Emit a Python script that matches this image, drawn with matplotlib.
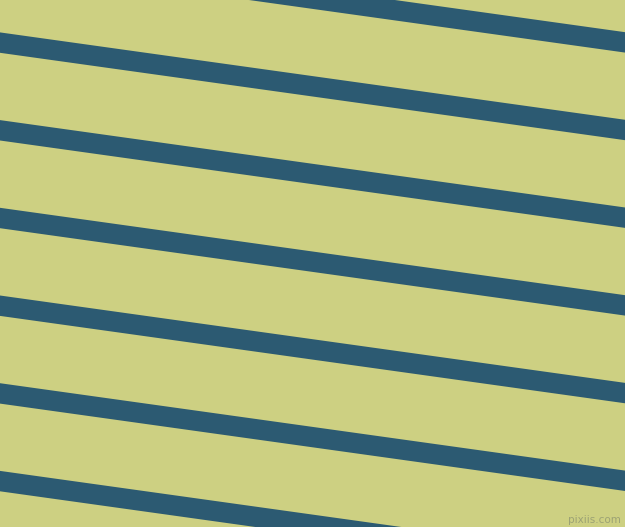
import numpy as np
import matplotlib
matplotlib.use("Agg")
import matplotlib.pyplot as plt

# stripe centre lines, measured at the left edge (pixels from top)
stripe_offsets = [-45.0, 42.6, 130.3, 218.0, 305.7, 393.4, 481.1]
stripe_slope = 0.1398      # drop per pixel across (about 8 degrees)
stripe_thick = 20.4        # vertical thickness in pixels

bg_color = "#cdd082"
stripe_color = "#2c5a72"

W, H = 625, 527
fig = plt.figure(figsize=(W / 100, H / 100), dpi=100)
ax = fig.add_axes([0, 0, 1, 1])
ax.set_xlim(0, W)
ax.set_ylim(H, 0)
ax.set_facecolor(bg_color)
ax.axis("off")
fig.patch.set_facecolor(bg_color)

xs = np.array([0, W])
for c in stripe_offsets:
    yc = c + stripe_slope * xs
    ax.fill_between(xs, yc - stripe_thick / 2, yc + stripe_thick / 2,
                    color=stripe_color, linewidth=0)

ax.text(W - 4, H - 2, "pixiis.com", ha="right", va="bottom",
        fontsize=7.5, color="#9ca274", family="DejaVu Sans")

fig.savefig("out.png", dpi=100, facecolor=bg_color)
